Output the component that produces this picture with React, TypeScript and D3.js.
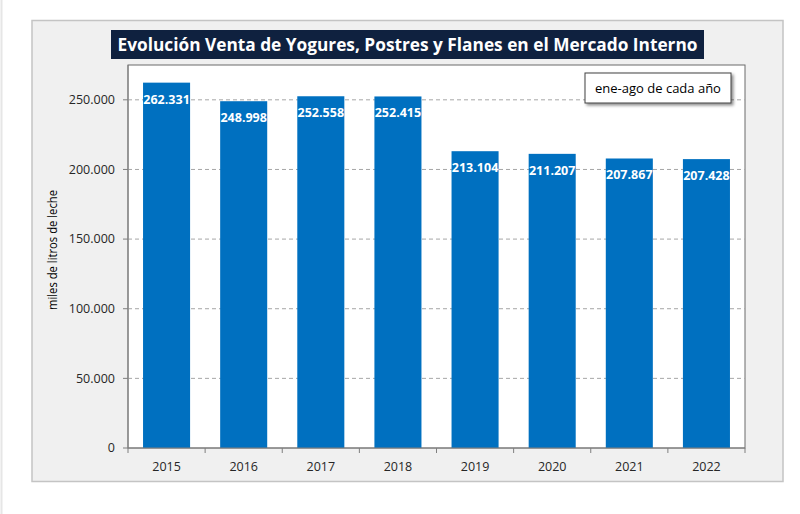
import * as d3 from 'd3';

const years = ['2015', '2016', '2017', '2018', '2019', '2020', '2021', '2022'];
const ventas = [262331, 248998, 252558, 252415, 213104, 211207, 207867, 207428];
const yTicks = [0, 50000, 100000, 150000, 200000, 250000];

const W = 800;
const H = 514;
const plot = { left: 128, right: 745, top: 65, bottom: 448 };
const font = "'Open Sans', 'Noto Sans', sans-serif";

const fmt = (v: number) => d3.format(',')(v).replace(/,/g, '.');

export default function App() {
  const x = d3.scaleBand<string>()
    .domain(years)
    .range([plot.left, plot.right])
    .paddingInner(0.39)
    .paddingOuter(0.195);

  const y = d3.scaleLinear()
    .domain([0, 275000])
    .range([plot.bottom, plot.top]);

  const step = x.step();
  const boundaries = d3.range(years.length + 1).map(i => plot.left + i * step);

  return (
    <svg width={W} height={H} style={{ position: 'absolute', left: 0, top: 0, background: '#fff' }}>
      <defs>
        <filter id="shadow" x="-10%" y="-20%" width="130%" height="160%">
          <feDropShadow dx="2" dy="2" stdDeviation="1.5" floodColor="#000" floodOpacity="0.45" />
        </filter>
      </defs>
      <line x1={1.5} x2={1.5} y1={0} y2={H} stroke="#e6e6e6" strokeWidth={2} />

      {/* outer chart area */}
      <rect x={32} y={20.5} width={751} height={461} fill="#f0f0f0" stroke="#c4c4c4" strokeWidth={1.5} />

      {/* plot area */}
      <rect x={plot.left} y={plot.top} width={plot.right - plot.left} height={plot.bottom - plot.top}
        fill="#fff" stroke="#6b6b6b" strokeWidth={1} />

      {/* grid lines */}
      {yTicks.filter(t => t > 0).map(t => (
        <line key={t} x1={plot.left} x2={plot.right} y1={y(t)} y2={y(t)}
          stroke="#a6a6a6" strokeWidth={1} strokeDasharray="4 3" />
      ))}

      {/* bars */}
      {ventas.map((v, i) => (
        <rect key={years[i]} x={x(years[i])} y={y(v)} width={x.bandwidth()} height={plot.bottom - y(v)}
          fill="#0070c0" />
      ))}

      {/* bar labels */}
      {ventas.map((v, i) => (
        <text key={'l' + years[i]} x={(x(years[i]) || 0) + x.bandwidth() / 2} y={y(v) + 21}
          textAnchor="middle" fill="#fff" fontFamily={font} fontWeight={700} fontSize={12.5}>
          {fmt(v)}
        </text>
      ))}

      {/* axes */}
      <line x1={plot.left} x2={plot.left} y1={plot.top} y2={plot.bottom} stroke="#7f7f7f" />
      <line x1={plot.left} x2={plot.right} y1={plot.bottom} y2={plot.bottom} stroke="#7f7f7f" />
      {yTicks.map(t => (
        <g key={'t' + t}>
          <line x1={plot.left - 5} x2={plot.left} y1={y(t)} y2={y(t)} stroke="#7f7f7f" />
          <text x={plot.left - 13} y={y(t)} dy="0.35em" textAnchor="end" fontFamily={font} fontSize={12.5} fill="#262626">
            {fmt(t)}
          </text>
        </g>
      ))}
      {boundaries.map((bx, i) => (
        <line key={'b' + i} x1={bx} x2={bx} y1={plot.bottom} y2={plot.bottom + 5} stroke="#7f7f7f" />
      ))}
      {years.map(yr => (
        <text key={'x' + yr} x={(x(yr) || 0) + x.bandwidth() / 2} y={467} dy="0.35em" textAnchor="middle"
          fontFamily={font} fontSize={12.5} fill="#262626">
          {yr}
        </text>
      ))}

      {/* y axis title */}
      <text transform="translate(53, 250) rotate(-90)" dy="0.35em" textAnchor="middle"
        fontFamily={font} fontSize={12} fill="#000" textLength={120} lengthAdjust="spacingAndGlyphs">
        miles de litros de leche
      </text>

      {/* title */}
      <rect x={111} y={30} width={593} height={29} fill="#0f213f" />
      <text x={407.5} y={45} dy="0.35em" textAnchor="middle" fontFamily={font} fontWeight={700} fontSize={17.5}
        fill="#fff" textLength={580} lengthAdjust="spacingAndGlyphs">
        Evolución Venta de Yogures, Postres y Flanes en el Mercado Interno
      </text>

      {/* note box */}
      <rect x={585} y={73} width={146} height={30} fill="#fff" stroke="#404040" strokeWidth={1} filter="url(#shadow)" />
      <text x={658} y={88} dy="0.35em" textAnchor="middle" fontFamily={font} fontSize={13} fill="#000">
        ene-ago de cada año
      </text>
    </svg>
  );
}
